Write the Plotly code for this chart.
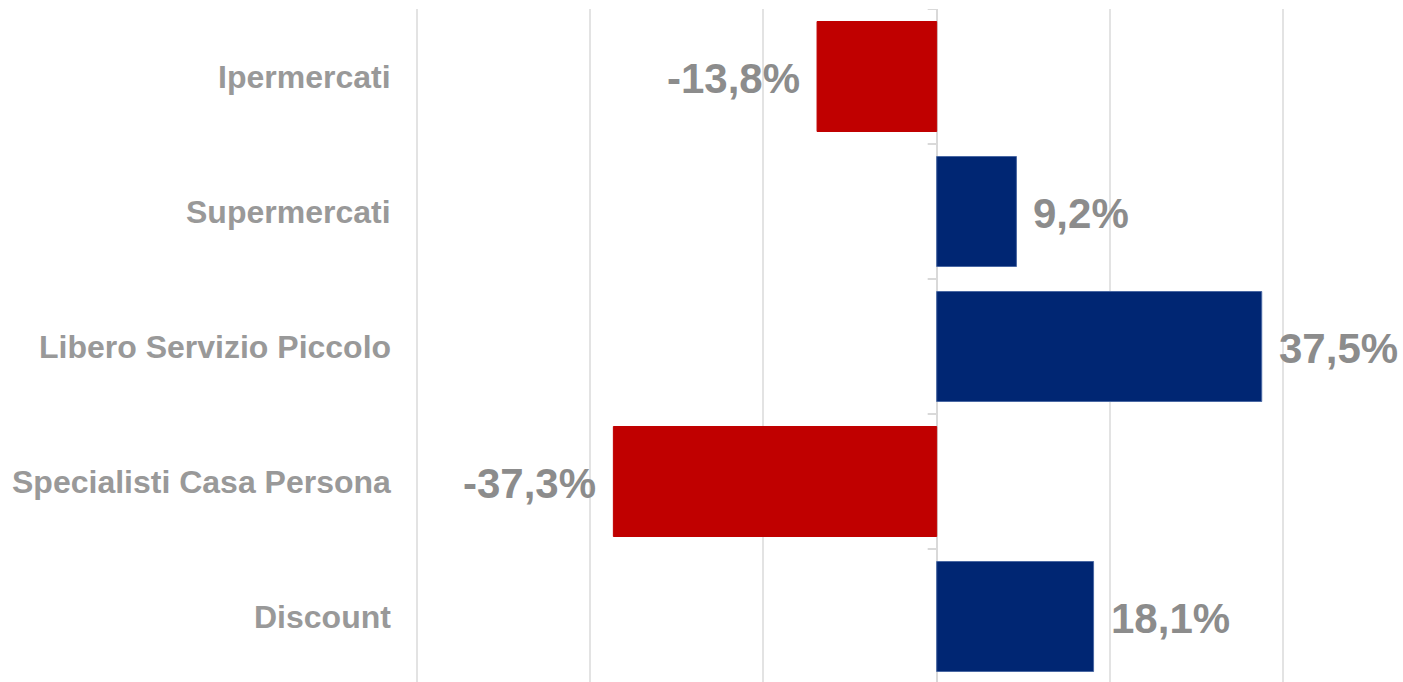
import plotly.graph_objects as go

categories = ["Ipermercati", "Supermercati", "Libero Servizio Piccolo",
              "Specialisti Casa Persona", "Discount"]
values = [-13.8, 9.2, 37.5, -37.3, 18.1]
x_ticks = [-60, -40, -20, 0, 20, 40]

RED = "#C00000"
BLUE = "#002673"
colors = [RED if v < 0 else BLUE for v in values]
line_colors = ["#C00000" if v < 0 else "#4a68a3" for v in values]

fig = go.Figure(go.Bar(
    y=categories, x=values, orientation="h",
    marker=dict(color=colors, line=dict(color=line_colors, width=1)),
    hoverinfo="skip",
))

W, H = 1403, 682
ml, mr, mt = 414, 117, 9
plot_h = H - mt
band = 135.0
px_per_unit = (W - ml - mr) / 100.6

annotations = []
for c, v in zip(categories, values):
    txt = f"{v:.1f}%".replace(".", ",")
    annotations.append(dict(
        x=v, y=c, xref="x", yref="y", text=f"<b>{txt}</b>", showarrow=False,
        xanchor="left" if v >= 0 else "right", yanchor="middle",
        xshift=15 if v >= 0 else -15, yshift=-2,
        font=dict(family="Liberation Sans, Arial", size=42, color="#8c8c8c"),
    ))
    annotations.append(dict(
        x=0, y=c, xref="paper", yref="y", text=f"<b>{c}</b>", showarrow=False,
        xanchor="right", yanchor="middle", xshift=-21,
        font=dict(family="Liberation Sans, Arial", size=32, color="#999999"),
    ))

shapes = []
tick_len = 9 / px_per_unit
for i in range(len(categories)):
    yb = i - 0.5
    shapes.append(dict(type="line", xref="x", yref="y", x0=-tick_len, x1=0,
                       y0=yb, y1=yb, line=dict(color="#d9d9d9", width=2)))

fig.update_layout(
    width=W, height=H,
    margin=dict(l=ml, r=mr, t=mt, b=0, pad=0),
    plot_bgcolor="white", paper_bgcolor="white",
    showlegend=False,
    bargap=25 / 135,
    annotations=annotations,
    shapes=shapes,
    xaxis=dict(range=[-60.3, 40.3], tickvals=x_ticks, showticklabels=False,
               showgrid=True, gridcolor="#e3e3e3", gridwidth=1.5,
               zeroline=True, zerolinecolor="#d9d9d9", zerolinewidth=2,
               ticks="", fixedrange=True),
    yaxis=dict(categoryorder="array", categoryarray=categories,
               range=[-0.5 + plot_h / band, -0.5],
               showticklabels=False, showgrid=False, zeroline=False,
               ticks="", fixedrange=True),
)

fig.write_html(
    "out.html",
    config={"displayModeBar": False},
    post_script="document.body.style.margin='0';document.body.style.overflow='hidden';",
)
